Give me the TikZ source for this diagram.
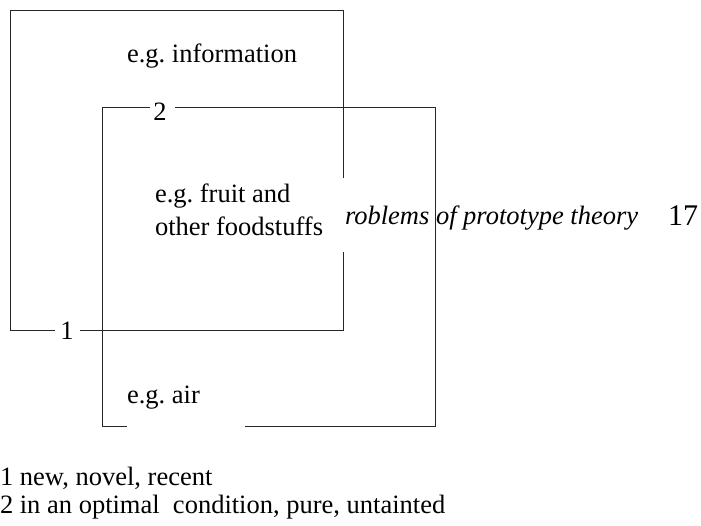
\documentclass[tikz,border=0pt]{standalone}
\usepackage{fontspec}
\setmainfont{Liberation Serif}
\newfontfamily\tnr{Liberation Serif}
\frenchspacing
\begin{document}
\begin{tikzpicture}[x=1pt,y=-1pt,
  edge/.style={line width=1pt,draw=black!85},
  txt/.style={inner sep=0pt,outer sep=0pt,anchor=base west,font=\tnr\fontsize{26.5}{33}\selectfont}]
\useasboundingbox (0,0) rectangle (701,526);
% box 1
\coordinate (a1) at (55,331);
\coordinate (a2) at (10,331);
\coordinate (a3) at (10,11);
\coordinate (a4) at (343,11);
\coordinate (a5) at (343,178);
\coordinate (b1) at (343,252);
\coordinate (b2) at (343,331);
\coordinate (b3) at (80,331);
\draw[edge] (a1) -- (a2) -- (a3) -- (a4) -- (a5);
\draw[edge] (b1) -- (b2) -- (b3);
% box 2
\coordinate (c1) at (150,108);
\coordinate (c2) at (102,108);
\coordinate (c3) at (102,426);
\coordinate (c4) at (127,426);
\coordinate (d1) at (245,426);
\coordinate (d2) at (435,426);
\coordinate (d3) at (435,108);
\coordinate (d4) at (175,108);
\draw[edge] (c1) -- (c2) -- (c3) -- (c4);
\draw[edge] (d1) -- (d2) -- (d3) -- (d4);
% labels
\node[txt] (info) at (127,63) {e.g. information};
\node[txt,anchor=base] (two) at (160,121) {2};
\node[txt,anchor=base] (one) at (67,340) {1};
\node[txt] (fruit) at (155,203) {e.g. fruit and};
\node[txt] (other) at (155,236) {other foodstuffs};
\node[txt] (run) at (345,225) {\itshape roblems of prototype theory};
\node[txt,anchor=base east,font=\tnr\fontsize{30}{33}\selectfont] (page) at (698,226) {17};
\node[txt] (air) at (127,403) {e.g. air};
\node[txt] (fn1) at (0,485) {1 new, novel, recent};
\node[txt] (fn2) at (0,513) {2 in an optimal~ condition, pure, untainted};
\end{tikzpicture}
\end{document}
